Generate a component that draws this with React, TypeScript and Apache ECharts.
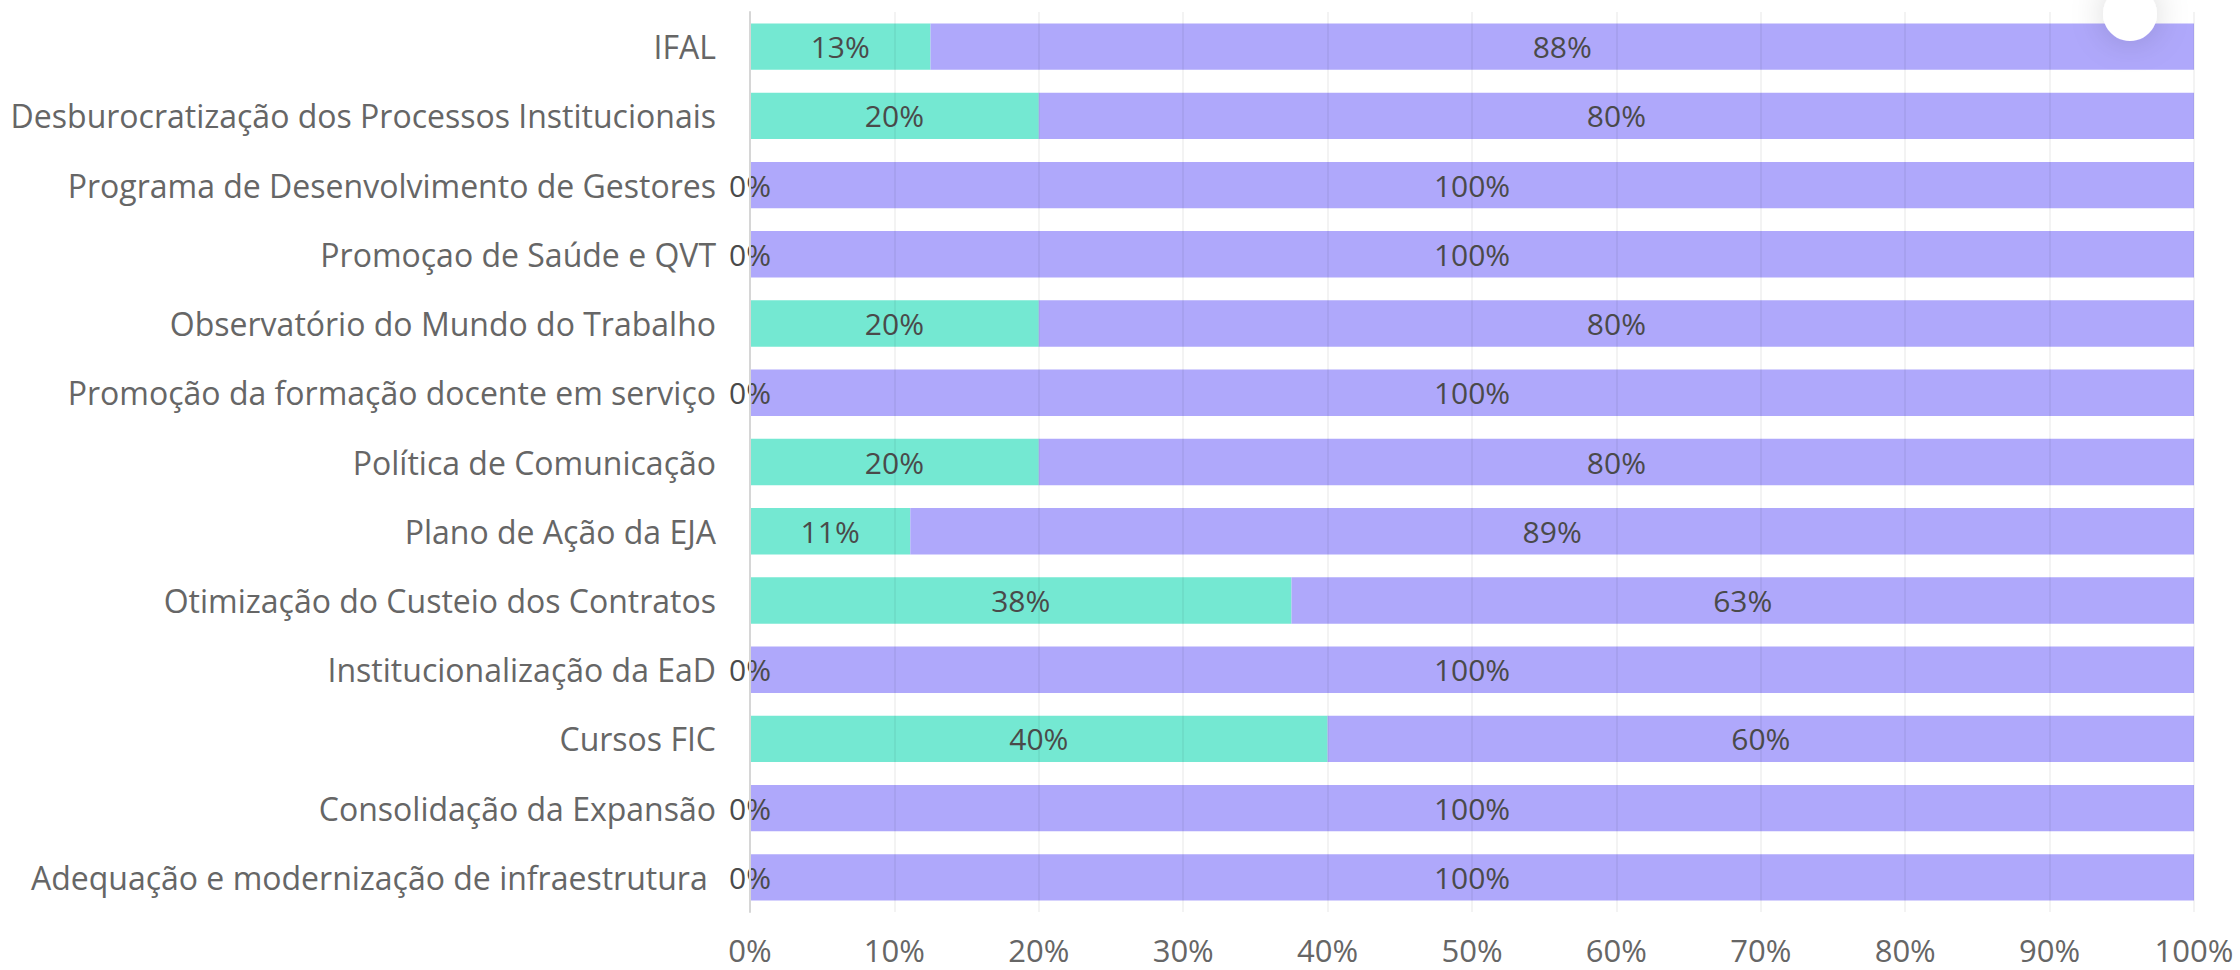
import React, { useEffect, useRef } from "react";
import * as echarts from "echarts";

const categories = [
  "IFAL",
  "Desburocratização dos Processos Institucionais",
  "Programa de Desenvolvimento de Gestores",
  "Promoçao de Saúde e QVT",
  "Observatório do Mundo do Trabalho",
  "Promoção da formação docente em serviço",
  "Política de Comunicação",
  "Plano de Ação da EJA",
  "Otimização do Custeio dos Contratos",
  "Institucionalização da EaD",
  "Cursos FIC",
  "Consolidação da Expansão",
  "Adequação e modernização de infraestrutura ",
];

const doneValues = [12.5, 20, 0, 0, 20, 0, 20, 11.1, 37.5, 0, 40, 0, 0];
const pendingValues = [87.5, 80, 100, 100, 80, 100, 80, 88.9, 62.5, 100, 60, 100, 100];

const xTicks = [0, 10, 20, 30, 40, 50, 60, 70, 80, 90, 100];

const FONT = "'Open Sans', 'Noto Sans', sans-serif";

export default function App() {
  const ref = useRef<HTMLDivElement>(null);
  useEffect(() => {
    if (!ref.current) return;
    const chart = echarts.init(ref.current, undefined, { renderer: "svg" });
    const labelCfg = {
      show: true,
      position: "inside",
      color: "#4a4a4a",
      fontFamily: FONT,
      fontSize: 30,
      formatter: (p: any) => Math.round(p.value) + "%",
    };
    chart.setOption({
      animation: false,
      textStyle: { fontFamily: FONT },
      grid: { left: 750, right: 46, top: 12, bottom: 58, containLabel: false },
      xAxis: {
        type: "value",
        min: xTicks[0],
        max: xTicks[xTicks.length - 1],
        interval: 10,
        z: 10,
        axisLine: { show: false },
        axisTick: { show: false },
        splitLine: { show: true, lineStyle: { color: "rgba(0,0,0,0.065)", width: 1.5 } },
        axisLabel: {
          color: "#666",
          fontSize: 31,
          fontFamily: FONT,
          margin: 22,
          formatter: (v: number) => v + "%",
        },
      },
      yAxis: {
        type: "category",
        inverse: true,
        data: categories,
        z: 10,
        axisLine: { show: true, lineStyle: { color: "#d6d6d6", width: 2 } },
        axisTick: { show: false },
        splitLine: { show: false },
        axisLabel: {
          color: "#666",
          fontSize: 32,
          fontFamily: FONT,
          margin: 34,
        },
      },
      series: [
        {
          name: "Concluído",
          type: "bar",
          stack: "total",
          data: doneValues,
          barCategoryGap: "33%",
          itemStyle: { color: "#74e8d2" },
          label: labelCfg,
        },
        {
          name: "Pendente",
          type: "bar",
          stack: "total",
          data: pendingValues,
          barCategoryGap: "33%",
          itemStyle: { color: "#afa8fb" },
          label: labelCfg,
        },
      ],
      graphic: [
        {
          type: "circle",
          z: 100,
          shape: { cx: 2130, cy: 14, r: 27 },
          style: {
            fill: "#ffffff",
            shadowBlur: 34,
            shadowColor: "rgba(0,0,0,0.16)",
          },
        },
      ],
    });
    return () => chart.dispose();
  }, []);
  return (
    <div
      ref={ref}
      style={{ width: 2240, height: 970, position: "absolute", left: 0, top: 0, background: "#fff" }}
    />
  );
}
